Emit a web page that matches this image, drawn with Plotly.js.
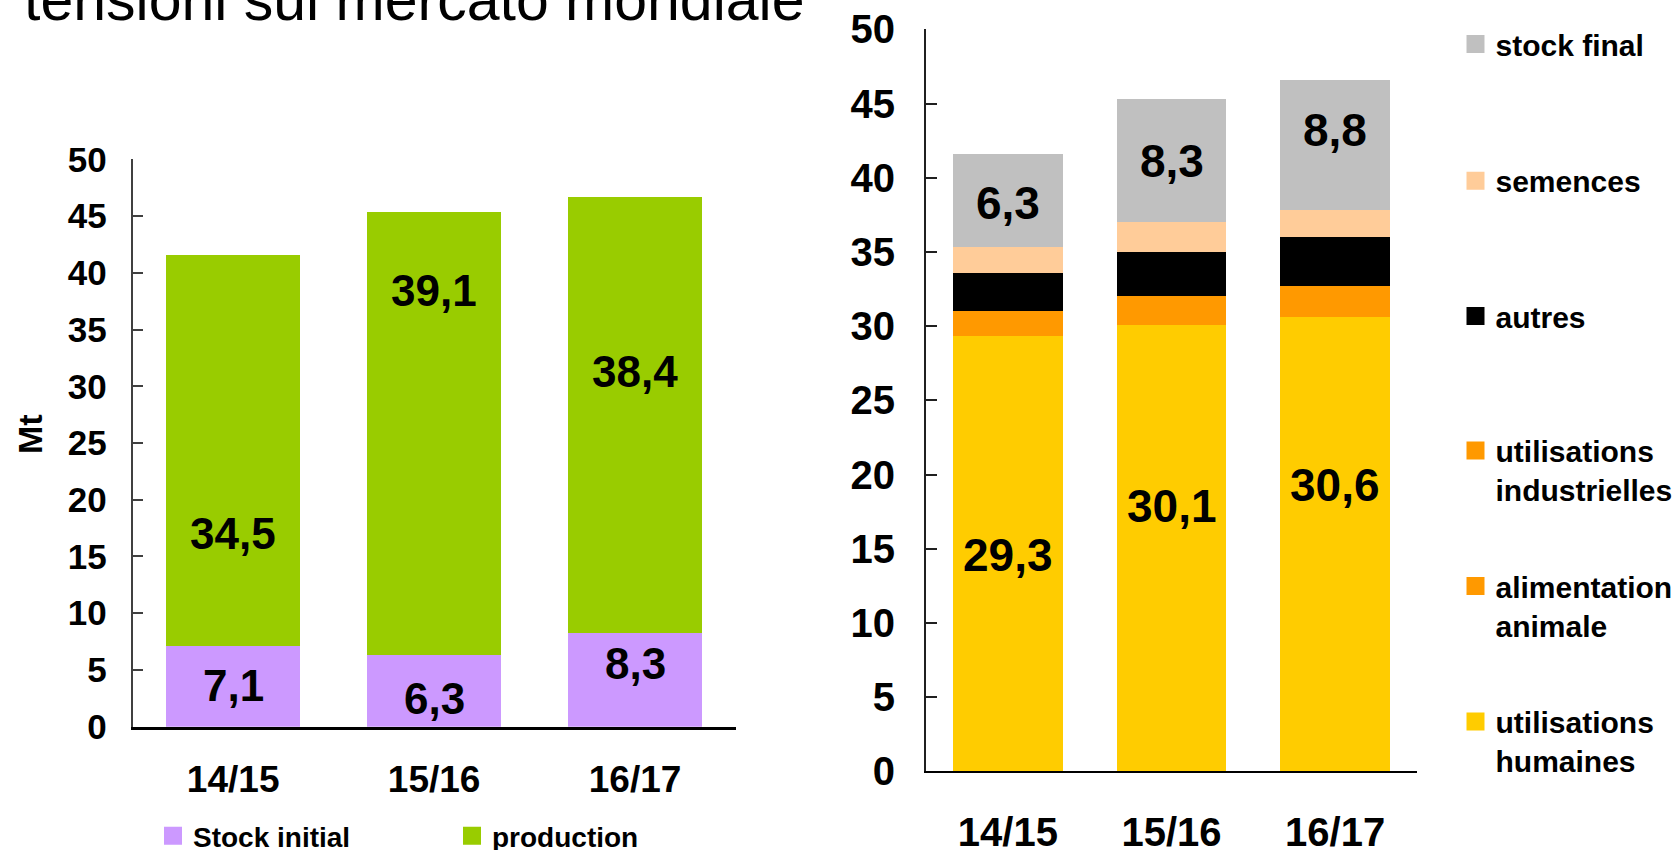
<!DOCTYPE html>
<html>
<head>
<meta charset="utf-8">
<script src="https://cdn.plot.ly/plotly-3.0.1.min.js"></script>
<style>
html,body{margin:0;padding:0;background:#fff;overflow:hidden}
#chart{width:1680px;height:850px}
</style>
</head>
<body>
<div id="chart"></div>
<script>
// ---------- data ----------
const categories = ['14/15', '15/16', '16/17'];
const yTickValues = [0, 5, 10, 15, 20, 25, 30, 35, 40, 45, 50];

// left chart (Mt)
const stockInitial = [7.1, 6.3, 8.3];
const production = [34.5, 39.1, 38.4];

// right chart (Mt)
const utilisationsHumaines = [29.3, 30.1, 30.6];
const alimentationAnimale = [1.0, 1.1, 1.2];
const utilisationsIndustrielles = [0.7, 0.8, 0.9];
const autres = [2.6, 3.0, 3.3];
const semences = [1.7, 2.0, 1.8];
const stockFinal = [6.3, 8.3, 8.8];

// where the value labels sit inside the bars (axis units)
const stockInitialLabelAt = [3.6, 2.5, 5.6];
const productionLabelAt = [17.0, 38.4, 31.3];
const humainesLabelAt = [14.6, 17.9, 19.3];
const stockFinalLabelAt = [38.3, 41.1, 43.2];

// ---------- helpers ----------
const W = 1680, H = 850;
const FONT = '"Liberation Sans", Arial, Helvetica, sans-serif';
const fr = v => v.toFixed(1).replace('.', ',');
const px = x => x / W;
const py = y => 1 - y / H;

const traces = [];
function series(name, values, color, xa, ya, legendId) {
  // the stacked bar itself
  traces.push({
    type: 'bar', name: name, x: categories, y: values,
    xaxis: xa, yaxis: ya, showlegend: false, legendgroup: legendId,
    marker: {color: color, line: {width: 0}},
    hoverinfo: 'skip'
  });
  // legend key only (larger square swatch), no data drawn
  traces.push({
    type: 'scatter', mode: 'markers', name: name, x: [null], y: [null],
    xaxis: xa, yaxis: ya, legend: legendId, legendgroup: legendId,
    marker: {symbol: 'square', size: 16, color: color, line: {width: 2, color: color}},
    hoverinfo: 'skip'
  });
}

series('Stock initial', stockInitial, '#CC99FF', 'x', 'y', 'legend');
series('production', production, '#99CC00', 'x', 'y', 'legend2');
series('utilisations<br>humaines', utilisationsHumaines, '#FFCC00', 'x2', 'y2', 'legend8');
series('alimentation<br>animale', alimentationAnimale, '#FF9900', 'x2', 'y2', 'legend7');
series('utilisations<br>industrielles', utilisationsIndustrielles, '#FF9900', 'x2', 'y2', 'legend6');
series('autres', autres, '#000000', 'x2', 'y2', 'legend5');
series('semences', semences, '#FFCC99', 'x2', 'y2', 'legend4');
series('stock final', stockFinal, '#C0C0C0', 'x2', 'y2', 'legend3');

function valueLabels(values, at, xref, yref, size) {
  return values.map((v, i) => ({
    x: categories[i], y: at[i], xref: xref, yref: yref,
    text: fr(v), showarrow: false, xanchor: 'center', yanchor: 'middle',
    font: {family: FONT, size: size, color: '#000', weight: 'bold'}
  }));
}

const annotations = [].concat(
  valueLabels(stockInitial, stockInitialLabelAt, 'x', 'y', 44),
  valueLabels(production, productionLabelAt, 'x', 'y', 44),
  valueLabels(utilisationsHumaines, humainesLabelAt, 'x2', 'y2', 46),
  valueLabels(stockFinal, stockFinalLabelAt, 'x2', 'y2', 46),
  [{
    text: 'Mt', textangle: -90, showarrow: false,
    xref: 'paper', yref: 'paper', x: px(30), y: py(434),
    xanchor: 'center', yanchor: 'middle',
    font: {family: FONT, size: 34, color: '#000', weight: 'bold'}
  }]
);

function legendAt(xSym, yTop, size) {
  return {
    x: px(xSym - 20), y: py(yTop), xref: 'paper', yref: 'paper',
    xanchor: 'left', yanchor: 'top', valign: 'top',
    bgcolor: 'rgba(0,0,0,0)', borderwidth: 0, itemwidth: 30,
    font: {family: FONT, size: size, color: '#000', weight: 'bold'},
    itemclick: false, itemdoubleclick: false
  };
}

const axisFontL = {family: FONT, size: 35, color: '#000', weight: 'bold'};
const axisFontR = {family: FONT, size: 40, color: '#000', weight: 'bold'};

const layout = {
  width: W, height: H,
  margin: {l: 0, r: 0, t: 0, b: 0, autoexpand: false},
  paper_bgcolor: '#ffffff', plot_bgcolor: 'rgba(0,0,0,0)',
  barmode: 'stack', bargap: 0.33,
  font: {family: FONT, color: '#000'},
  title: {
    text: 'tensioni sul mercato mondiale',
    font: {family: FONT, size: 59, color: '#000'},
    xref: 'container', yref: 'container',
    x: px(24), xanchor: 'left', y: py(20), yanchor: 'bottom'
  },
  xaxis: {
    domain: [px(132.7), px(735.5)], anchor: 'y',
    showline: true, linecolor: '#000', linewidth: 3,
    ticks: '', showgrid: false, zeroline: false,
    tickfont: {family: FONT, size: 37, color: '#000', weight: 'bold'},
    ticklabelstandoff: 18, fixedrange: true
  },
  yaxis: {
    domain: [py(726.7), py(159.3)], anchor: 'x',
    range: [0, 50], tickvals: yTickValues, ticktext: yTickValues.map(String),
    showline: true, linecolor: '#404040', linewidth: 2,
    ticks: 'inside', ticklen: 10, tickwidth: 2, tickcolor: '#404040',
    showgrid: false, zeroline: false,
    tickfont: axisFontL, ticklabelstandoff: 17, fixedrange: true
  },
  xaxis2: {
    domain: [px(926), px(1417)], anchor: 'y2',
    showline: true, linecolor: '#000', linewidth: 2,
    ticks: '', showgrid: false, zeroline: false,
    tickfont: axisFontR, ticklabelstandoff: 25, fixedrange: true
  },
  yaxis2: {
    domain: [py(771.3), py(29.3)], anchor: 'x2',
    range: [0, 50], tickvals: yTickValues, ticktext: yTickValues.map(String),
    showline: true, linecolor: '#202020', linewidth: 2,
    ticks: 'inside', ticklen: 11, tickwidth: 2, tickcolor: '#202020',
    showgrid: false, zeroline: false,
    tickfont: axisFontR, ticklabelstandoff: 21, fixedrange: true
  },
  legend: legendAt(173, 811, 28),
  legend2: legendAt(472, 811, 28),
  legend3: legendAt(1475.5, 18, 30),
  legend4: legendAt(1475.5, 154.7, 30),
  legend5: legendAt(1475.5, 290, 30),
  legend6: legendAt(1475.5, 424.6, 30),
  legend7: legendAt(1475.5, 560, 30),
  legend8: legendAt(1475.5, 695.6, 30),
  showlegend: true,
  annotations: annotations,
  hovermode: false
};

Plotly.newPlot('chart', traces, layout, {staticPlot: true, displayModeBar: false, responsive: false});
</script>
</body>
</html>
